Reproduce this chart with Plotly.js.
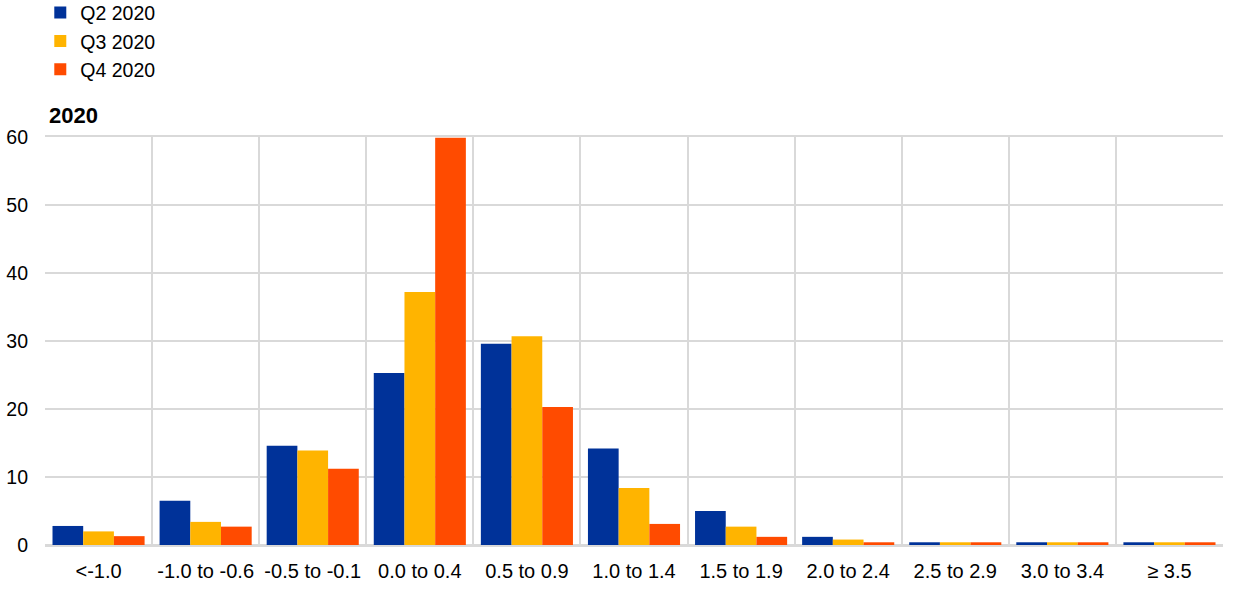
<!DOCTYPE html>
<html>
<head>
<meta charset="utf-8">
<script src="https://cdn.plot.ly/plotly-3.0.1.min.js"></script>
<style>html,body{margin:0;padding:0;background:#fff;}#chart{width:1240px;height:591px;}</style>
</head>
<body>
<div id="chart"></div>
<script>
var categories = ["<-1.0", "-1.0 to -0.6", "-0.5 to -0.1", "0.0 to 0.4", "0.5 to 0.9", "1.0 to 1.4", "1.5 to 1.9", "2.0 to 2.4", "2.5 to 2.9", "3.0 to 3.4", "\u2265 3.5"];
var q2_2020 = [2.8, 6.5, 14.6, 25.3, 29.6, 14.2, 5.0, 1.2, 0.4, 0.4, 0.4];
var q3_2020 = [2.0, 3.4, 13.9, 37.2, 30.7, 8.4, 2.7, 0.8, 0.4, 0.4, 0.4];
var q4_2020 = [1.3, 2.7, 11.2, 59.9, 20.3, 3.1, 1.2, 0.4, 0.4, 0.4, 0.4];
var seriesNames = ["Q2 2020", "Q3 2020", "Q4 2020"];
var seriesColors = ["#003299", "#FFB400", "#FF4B00"];
var yTicks = [0, 10, 20, 30, 40, 50, 60];

var allValues = [q2_2020, q3_2020, q4_2020];
var traces = allValues.map(function(v, i) {
  return {
    type: "bar",
    name: seriesNames[i],
    x: categories,
    y: v,
    marker: {color: seriesColors[i], line: {width: 0}},
    hoverinfo: "x+y+name"
  };
});

var font = "Arial, 'Liberation Sans', sans-serif";
var layout = {
  width: 1240,
  height: 591,
  margin: {l: 45, r: 17, t: 137, b: 46, autoexpand: false},
  paper_bgcolor: "#ffffff",
  plot_bgcolor: "#ffffff",
  barmode: "group",
  bargap: 0.14,
  bargroupgap: 0,
  font: {family: font, size: 19, color: "#000000"},
  showlegend: true,
  legend: {
    x: -0.004, xanchor: "left",
    y: 1.352, yref: "paper", yanchor: "top",
    orientation: "v",
    traceorder: "normal",
    font: {family: font, size: 19.5, color: "#000000"},
    bgcolor: "rgba(0,0,0,0)",
    itemwidth: 30,
    tracegroupgap: 0
  },
  xaxis: {
    type: "category",
    categoryorder: "array",
    categoryarray: categories,
    range: [-0.5, categories.length - 0.5],
    tickson: "boundaries",
    showgrid: true,
    gridcolor: "#d9d9d9",
    gridwidth: 2,
    ticks: "",
    ticklabelstandoff: 7,
    showline: true,
    linecolor: "#d9d9d9",
    linewidth: 2,
    mirror: true,
    tickfont: {family: font, size: 20, color: "#000000"},
    fixedrange: true
  },
  yaxis: {
    range: [0, 60],
    tickvals: yTicks,
    ticktext: yTicks.map(String),
    showgrid: true,
    gridcolor: "#d9d9d9",
    gridwidth: 2,
    zeroline: true,
    zerolinecolor: "#d9d9d9",
    zerolinewidth: 2,
    showline: false,
    ticks: "",
    ticklabelstandoff: 16,
    tickfont: {family: font, size: 19.5, color: "#000000"},
    fixedrange: true
  },
  annotations: [{
    text: "<b>2020</b>",
    xref: "paper", yref: "paper",
    x: 0.002, y: 1.0,
    xanchor: "left", yanchor: "bottom",
    yshift: 7,
    showarrow: false,
    font: {family: font, size: 22, color: "#000000"}
  }]
};

Plotly.newPlot("chart", traces, layout, {displayModeBar: false, staticPlot: false});
</script>
</body>
</html>
